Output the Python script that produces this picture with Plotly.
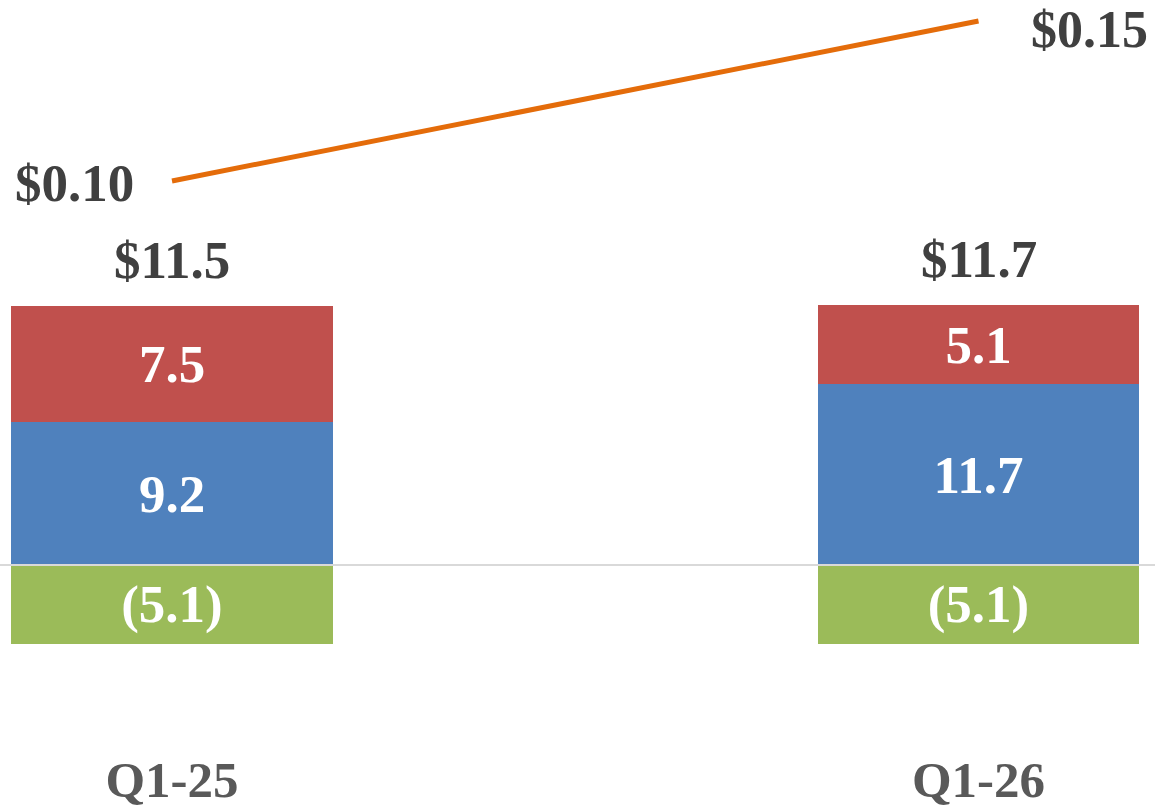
import plotly.graph_objects as go

categories = ["Q1-25", "Q1-26"]
seg_green = [-5.1, -5.1]
seg_blue = [9.2, 11.7]
seg_red = [7.5, 5.1]
green_labels = ["(5.1)", "(5.1)"]
blue_labels = ["9.2", "11.7"]
red_labels = ["7.5", "5.1"]
totals = [11.5, 11.7]
total_labels = ["$11.5", "$11.7"]
eps = [0.10, 0.15]
eps_labels = ["$0.10", "$0.15"]

FONT = "Liberation Serif"
BAR_W = 0.399
FS = 53

fig = go.Figure()
for vals, labs, col in [(seg_green, green_labels, "#9BBB59"),
                        (seg_blue, blue_labels, "#4F81BD"),
                        (seg_red, red_labels, "#C0504D")]:
    fig.add_trace(go.Bar(
        x=categories, y=vals, text=labs, textposition="inside",
        insidetextanchor="middle", constraintext="none",
        textfont=dict(family=FONT, size=FS, color="white", weight="bold"),
        marker=dict(color=col, line=dict(width=0)),
        width=BAR_W, showlegend=False, hoverinfo="skip",
    ))

fig.add_trace(go.Scatter(
    x=categories, y=eps, mode="lines", yaxis="y2",
    line=dict(color="#E46C0A", width=5), showlegend=False, hoverinfo="skip",
))

# total labels above stacks
for i, c in enumerate(categories):
    top = seg_blue[i] + seg_red[i]
    fig.add_annotation(x=c, y=top, text=total_labels[i], showarrow=False,
                       yanchor="bottom", yshift=15,
                       font=dict(family=FONT, size=FS, color="#404040", weight="bold"))

# EPS labels
fig.add_annotation(x=categories[0], y=eps[0], yref="y2", text=eps_labels[0],
                   showarrow=False, xanchor="right", xshift=-36, yshift=-2,
                   font=dict(family=FONT, size=FS, color="#404040", weight="bold"))
fig.add_annotation(x=categories[1], y=eps[1], yref="y2", text=eps_labels[1],
                   showarrow=False, xanchor="left", xshift=51, yshift=-9,
                   borderpad=0,
                   font=dict(family=FONT, size=52, color="#404040", weight="bold"))

# zero baseline
fig.add_shape(type="line", xref="paper", x0=0, x1=1, yref="y", y0=0, y1=0,
              line=dict(color="#D9D9D9", width=2), layer="above")

H = 745
fig.update_layout(
    width=1155, height=810, barmode="relative", bargap=0,
    margin=dict(l=0, r=0, t=0, b=810 - H),
    paper_bgcolor="white", plot_bgcolor="white",
    xaxis=dict(type="category", range=[-0.21327, 1.21884], showgrid=False,
               zeroline=False, showline=False, ticks="", automargin=False,
               tickfont=dict(family=FONT, size=51, color="#595959", weight="bold")),
    yaxis=dict(range=[-11.61, 36.45], showgrid=False, zeroline=False,
               showticklabels=False, showline=False, automargin=False),
    yaxis2=dict(range=[-0.07625, 0.15656], overlaying="y", side="right",
                showgrid=False, zeroline=False, showticklabels=False,
                showline=False, automargin=False),
)

fig.write_html("out.html")
